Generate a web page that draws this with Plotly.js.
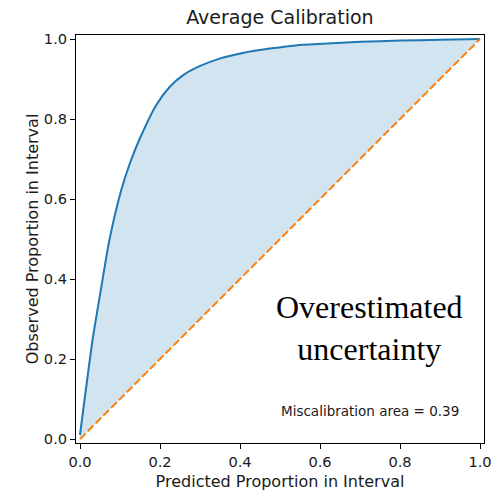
<!DOCTYPE html>
<html>
<head>
<meta charset="utf-8">
<script src="https://cdn.plot.ly/plotly-3.0.1.min.js"></script>
<style>html,body{margin:0;padding:0;background:#fff;}#chart{width:499px;height:497px;}</style>
</head>
<body>
<div id="chart"></div>
<script>
// Expected (predicted) proportion in interval
const predicted = [0.0, 0.031, 0.052, 0.073, 0.103, 0.125, 0.149, 0.19, 0.224, 0.257, 0.299, 0.349, 0.407, 0.474, 0.54, 0.607, 0.70, 0.80, 0.90, 1.0];
// Observed proportion in interval
const observed  = [0.01, 0.245, 0.372, 0.495, 0.622, 0.69, 0.75, 0.834, 0.88, 0.909, 0.932, 0.951, 0.965, 0.976, 0.984, 0.988, 0.993, 0.996, 0.998, 1.0];
// Ideal calibration line
const idealX = [0, 1];
const idealY = [0, 1];
const miscalArea = 0.39;

const font = "DejaVu Sans, sans-serif";
const textColor = '#1a1a1a';
const traces = [
  {x: idealX, y: idealY, mode: 'lines', line: {width: 0, color: 'rgba(0,0,0,0)'}, hoverinfo: 'skip', showlegend: false},
  {x: predicted, y: observed, mode: 'lines', fill: 'tonexty', fillcolor: 'rgba(31,119,180,0.2)',
   line: {color: '#1f77b4', width: 2, shape: 'spline', smoothing: 0.6}, showlegend: false},
  {x: idealX, y: idealY, mode: 'lines', line: {color: '#ff7f0e', width: 2, dash: '8px,3px'}, showlegend: false}
];

const axisCommon = {
  range: [-0.01, 1.01], showgrid: false, zeroline: false,
  showline: true, linecolor: '#000', linewidth: 1, mirror: true,
  ticks: 'outside', ticklen: 5, tickwidth: 1, tickcolor: '#000',
  tickvals: [0, 0.2, 0.4, 0.6, 0.8, 1.0], ticktext: ['0.0','0.2','0.4','0.6','0.8','1.0'],
  tickfont: {family: font, size: 14.6, color: textColor}
};

const layout = {
  width: 499, height: 497,
  margin: {l: 76, r: 15, t: 35, b: 54},
  paper_bgcolor: '#fff', plot_bgcolor: '#fff',
  title: {text: 'Average Calibration', font: {family: font, size: 19, color: textColor}, x: 0.561, xanchor: 'center', y: 0.965, yanchor: 'middle'},
  xaxis: Object.assign({}, axisCommon, {title: {text: 'Predicted Proportion in Interval', font: {family: font, size: 16, color: textColor}, standoff: 7}}),
  yaxis: Object.assign({}, axisCommon, {title: {text: 'Observed Proportion in Interval', font: {family: font, size: 16, color: textColor}, standoff: 1}}),
  annotations: [
    {x: 0.724, y: 0.277, xref: 'x', yref: 'y', text: 'Overestimated<br>uncertainty', showarrow: false,
     font: {family: 'Liberation Serif, Times New Roman, serif', size: 32, color: '#000'}, align: 'center'},
    {x: 0.724, y: 0.069, xref: 'x', yref: 'y', text: 'Miscalibration area = ' + miscalArea.toFixed(2), showarrow: false,
     font: {family: font, size: 13.5, color: textColor}}
  ]
};

Plotly.newPlot('chart', traces, layout, {displayModeBar: false, staticPlot: true});
</script>
</body>
</html>
